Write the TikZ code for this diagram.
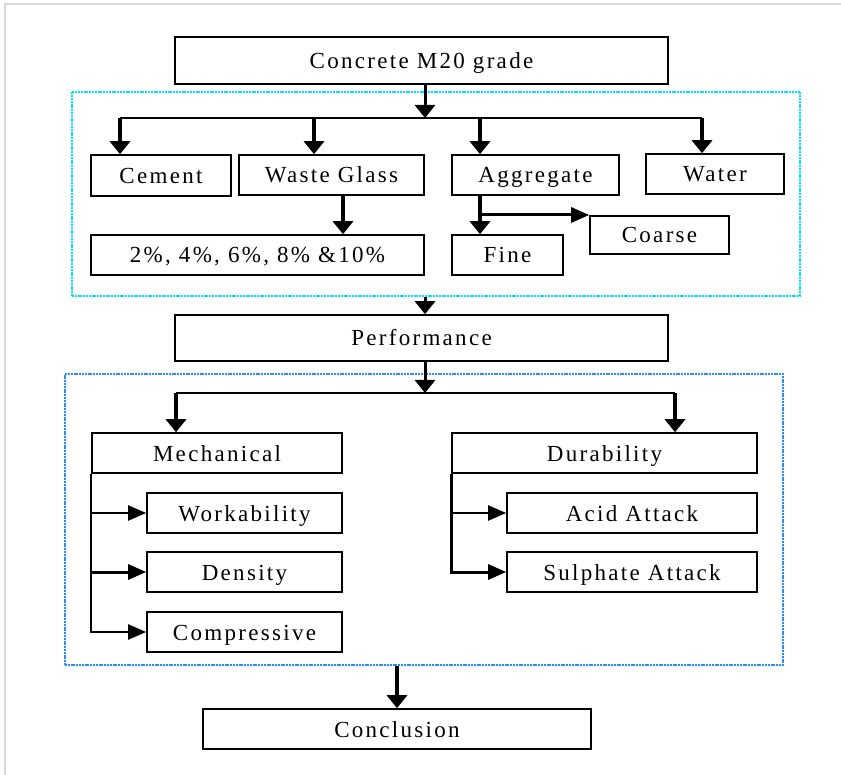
\documentclass[tikz,border=0pt]{standalone}
\usepackage{fontspec}
\setmainfont{Liberation Serif}[LetterSpace=10]
\usetikzlibrary{arrows.meta}
\definecolor{grpcyan}{RGB}{0,228,255}
\definecolor{grpblue}{RGB}{40,140,255}
\definecolor{framegray}{RGB}{215,215,215}
\tikzset{
  bx/.style={draw, line width=1.6pt, inner sep=0pt, text height=19pt, text depth=3pt, font=\fontsize{23}{27}\selectfont},
  grp/.style={draw, line width=2pt, dash pattern=on 2pt off 0.8pt, inner sep=0pt},
  varrow/.style={line width=3.5pt, -{Triangle[width=20pt,length=13pt]}},
  harrow/.style={line width=2.2pt, -{Triangle[width=15pt,length=18pt]}},
  bline/.style={line width=1.8pt},
}
\begin{document}
\begin{tikzpicture}[x=1pt,y=-1pt]
\useasboundingbox (0,0) rectangle (841,775);
\draw[framegray, line width=1.5pt] (841,4) -- (5,4) -- (5,775);
% groups
\node[grp, draw=grpcyan, minimum width=728, minimum height=204] (g1) at (436,194) {};
\node[grp, draw=grpblue, minimum width=718, minimum height=291] (g2) at (424,519.5) {};
% top
\node[bx, minimum width=493, minimum height=47] (concrete) at (421.5,60.5) {Concrete M20 grade};
\node[bx, minimum width=140, minimum height=41] (cement) at (161,175.5) {Cement};
\node[bx, minimum width=185, minimum height=40] (waste) at (331.5,175) {Waste Glass};
\node[bx, minimum width=167, minimum height=40] (agg) at (535.5,175) {Aggregate};
\node[bx, minimum width=138, minimum height=40] (water) at (715,174) {Water};
\node[bx, minimum width=333, minimum height=40] (pct) at (257.5,255) {2\%, 4\%, 6\%, 8\% \&10\%};
\node[bx, minimum width=111, minimum height=40] (fine) at (507.5,255) {Fine};
\node[bx, minimum width=139, minimum height=38] (coarse) at (659.5,235) {Coarse};
\node[bx, minimum width=493, minimum height=46] (perf) at (421.5,338) {Performance};
\node[bx, minimum width=250, minimum height=40] (mech) at (217,453) {Mechanical};
\node[bx, minimum width=305, minimum height=40] (dur) at (604.5,453) {Durability};
\node[bx, minimum width=195, minimum height=40] (work) at (244.5,513) {Workability};
\node[bx, minimum width=195, minimum height=40] (dens) at (244.5,572) {Density};
\node[bx, minimum width=195, minimum height=40] (comp) at (244.5,632) {Compressive};
\node[bx, minimum width=250, minimum height=40] (acid) at (632,513) {Acid Attack};
\node[bx, minimum width=250, minimum height=40] (sul) at (632,572) {Sulphate Attack};
\node[bx, minimum width=388, minimum height=40] (concl) at (397,729) {Conclusion};
% junctions
\coordinate (j1) at (425,118);
\coordinate (cX) at (120,118);
\coordinate (wX) at (314,118);
\coordinate (aX) at (480,118);
\coordinate (tX) at (702,118);
\coordinate (gX) at (343,195);
\coordinate (fX) at (480,195);
\coordinate (fB) at (480,215);
\coordinate (j2) at (425,393);
\coordinate (mX) at (176,393);
\coordinate (dX) at (675,393);
% connectors top
\draw[varrow, line width=3pt] (concrete.south -| j1) -- (j1);
\draw[bline] (cX) -- (tX);
\draw[varrow] (cX) -- (cX |- cement.north);
\draw[varrow] (wX) -- (wX |- waste.north);
\draw[varrow] (aX) -- (aX |- agg.north);
\draw[varrow] (tX) -- (tX |- water.north);
\draw[varrow] (gX) -- (gX |- pct.north);
\draw[varrow] (fX) -- (fX |- fine.north);
\draw[harrow, line width=3pt] (fB) -- (fB -| coarse.west);
\draw[varrow, line width=3pt] (g1.south -| j1) -- (perf.north -| j1);
% connectors middle
\draw[varrow, line width=3pt] (perf.south -| j2) -- (j2);
\draw[bline] (mX) -- (dX);
\draw[varrow] (mX) -- (mX |- mech.north);
\draw[varrow] (dX) -- (dX |- dur.north);
\draw[harrow] (mech.south west) |- (comp.west);
\draw[harrow] (mech.south west |- work.west) -- (work.west);
\draw[harrow, line width=3pt] (mech.south west |- dens.west) -- (dens.west);
\draw[harrow, line width=3pt] (dur.south west) |- (sul.west);
\draw[harrow] (dur.south west |- acid.west) -- (acid.west);
% conclusion
\draw[varrow] (g2.south -| concl.north) -- (concl.north);
\end{tikzpicture}
\end{document}
